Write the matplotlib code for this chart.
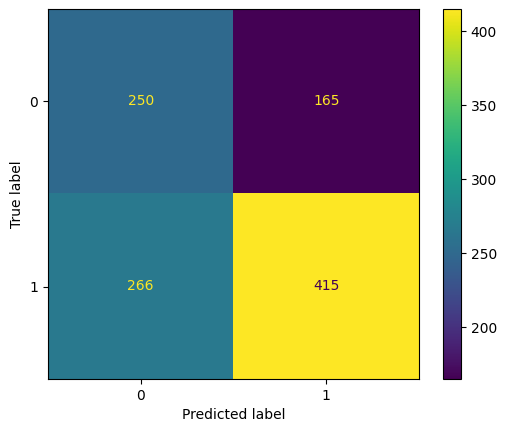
import numpy as np
import matplotlib
matplotlib.use("Agg")
import matplotlib.pyplot as plt

labels = ["0", "1"]
cm = np.array([[250, 165],
               [266, 415]])

fig = plt.figure(figsize=(5.07, 4.32), dpi=100)
ax = fig.add_axes([48 / 507, 1 - 379 / 432, 371 / 507, 370 / 432])
cax = fig.add_axes([443 / 507, 1 - 379 / 432, 18 / 507, 370 / 432])

cmap = plt.cm.viridis
im = ax.imshow(cm, interpolation="nearest", cmap=cmap, aspect="auto")
fig.colorbar(im, cax=cax)

thresh = (cm.max() + cm.min()) / 2.0
for i in range(cm.shape[0]):
    for j in range(cm.shape[1]):
        color = cmap(0) if cm[i, j] >= thresh else cmap(1.0)
        ax.text(j, i, format(cm[i, j], "d"), ha="center", va="center", color=color)

ax.set_xticks(range(len(labels)))
ax.set_xticklabels(labels)
ax.set_yticks(range(len(labels)))
ax.set_yticklabels(labels)
ax.set_xlabel("Predicted label")
ax.set_ylabel("True label")
ax.set_ylim(len(labels) - 0.5, -0.5)

fig.savefig("out.png", dpi=100)
